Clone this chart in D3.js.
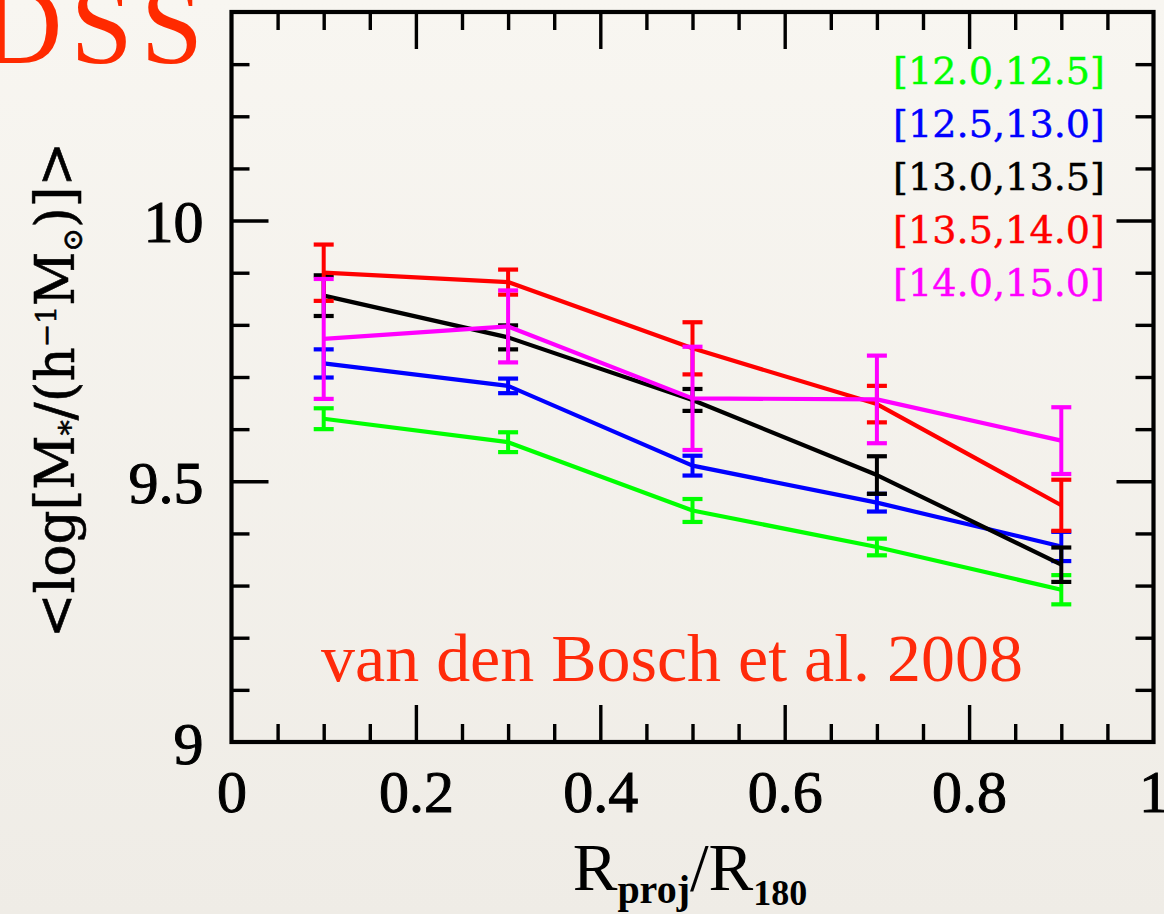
<!DOCTYPE html>
<html>
<head>
<meta charset="utf-8">
<script src="https://cdn.jsdelivr.net/npm/d3@7"></script>
<style>
  html, body { margin: 0; padding: 0; background: #f6f3ed; }
  svg { display: block; }
</style>
</head>
<body>
<svg id="chart" width="1164" height="914"></svg>
<script>
// Mean satellite stellar mass vs projected radius, by host halo-mass bin
const radius = [0.1, 0.3, 0.5, 0.7, 0.9];

const binLabels = ["[12.0,12.5]", "[12.5,13.0]", "[13.0,13.5]", "[13.5,14.0]", "[14.0,15.0]"];
const binColors = ["#00ff00", "#0000ff", "#000000", "#ff0000", "#ff00ff"];

const mean_12_0 = [9.620, 9.575, 9.444, 9.374, 9.292];
const err_12_0  = [0.020, 0.019, 0.022, 0.016, 0.028];
const mean_12_5 = [9.726, 9.683, 9.530, 9.459, 9.375];
const err_12_5  = [0.027, 0.014, 0.019, 0.017, 0.028];
const mean_13_0 = [9.856, 9.776, 9.656, 9.512, 9.340];
const err_13_0  = [0.039, 0.023, 0.021, 0.036, 0.033];
const mean_13_5 = [9.900, 9.882, 9.755, 9.648, 9.454];
const err_13_5  = [0.054, 0.024, 0.050, 0.035, 0.049];
const mean_14_0 = [9.773, 9.797, 9.659, 9.657, 9.578];
const err_14_0  = [0.115, 0.069, 0.099, 0.084, 0.064];

const xMajorTicks = [0.2, 0.4, 0.6, 0.8];
const xMinorTicks = [0.05, 0.1, 0.15, 0.25, 0.3, 0.35, 0.45, 0.5, 0.55, 0.65, 0.7, 0.75, 0.85, 0.9, 0.95];
const xTickLabels = [0, 0.2, 0.4, 0.6, 0.8, 1];
const yMajorTicks = [9.5, 10];
const yMinorTicks = [9.1, 9.2, 9.3, 9.4, 9.6, 9.7, 9.8, 9.9, 10.1, 10.2, 10.3];
const yTickLabels = [9, 9.5, 10];

const series = [
  { label: binLabels[0], color: binColors[0], mean: mean_12_0, err: err_12_0 },
  { label: binLabels[1], color: binColors[1], mean: mean_12_5, err: err_12_5 },
  { label: binLabels[2], color: binColors[2], mean: mean_13_0, err: err_13_0 },
  { label: binLabels[3], color: binColors[3], mean: mean_13_5, err: err_13_5 },
  { label: binLabels[4], color: binColors[4], mean: mean_14_0, err: err_14_0 }
];

const svg = d3.select("#chart");
const W = 1164, H = 914;

// paper-like background
const defs = svg.append("defs");
const grad = defs.append("linearGradient").attr("id", "paper")
  .attr("x1", 0).attr("y1", 0).attr("x2", 0).attr("y2", 1);
grad.append("stop").attr("offset", "0%").attr("stop-color", "#f8f6f1");
grad.append("stop").attr("offset", "100%").attr("stop-color", "#efece6");
svg.append("rect").attr("width", W).attr("height", H).attr("fill", "url(#paper)");

const x = d3.scaleLinear().domain([0, 1]).range([231.5, 1153.5]);
const y = d3.scaleLinear().domain([9, 10.4]).range([742, 12]);

const tickFont = "'Liberation Serif', 'DejaVu Serif', serif";

function fitWidth(sel, target) {
  const w = sel.node().getComputedTextLength();
  const fs = parseFloat(sel.attr("font-size"));
  sel.attr("font-size", fs * target / w);
}

// Survey name, partly running off the left edge
svg.append("text")
  .attr("x", 211).attr("y", 63)
  .attr("text-anchor", "end")
  .attr("font-family", "'Liberation Serif', serif")
  .attr("font-size", 112)
  .attr("letter-spacing", 8)
  .attr("fill", "#ff2a00")
  .text("SDSS");

// tick marks on all four sides, pointing inward
function tickAxis(gen, transform, values, size) {
  const g = svg.append("g").attr("transform", transform)
    .call(gen.tickValues(values).tickSize(size).tickFormat(""));
  g.select(".domain").remove();
  g.selectAll(".tick line").attr("stroke", "#000").attr("stroke-width", 3.4);
  return g;
}
const bottomT = `translate(0,${y(9)})`, topT = `translate(0,${y(10.4)})`;
const leftT = `translate(${x(0)},0)`, rightT = `translate(${x(1)},0)`;
tickAxis(d3.axisBottom(x), bottomT, xMajorTicks, -37);
tickAxis(d3.axisBottom(x), bottomT, xMinorTicks, -18);
tickAxis(d3.axisTop(x), topT, xMajorTicks, -37);
tickAxis(d3.axisTop(x), topT, xMinorTicks, -18);
tickAxis(d3.axisLeft(y), leftT, yMajorTicks, -37);
tickAxis(d3.axisLeft(y), leftT, yMinorTicks, -18);
tickAxis(d3.axisRight(y), rightT, yMajorTicks, -37);
tickAxis(d3.axisRight(y), rightT, yMinorTicks, -18);

// frame
svg.append("rect")
  .attr("x", x(0)).attr("y", y(10.4))
  .attr("width", x(1) - x(0)).attr("height", y(9) - y(10.4))
  .attr("fill", "none").attr("stroke", "#000").attr("stroke-width", 4.2);

// tick labels
const xLab = svg.append("g").attr("transform", bottomT)
  .call(d3.axisBottom(x).tickValues(xTickLabels).tickSize(0).tickPadding(27)
    .tickFormat(d => d === 0 ? "0" : d === 1 ? "1" : d3.format(".1f")(d)));
xLab.select(".domain").remove();
xLab.selectAll("text").attr("font-family", tickFont).attr("font-size", 60)
  .attr("fill", "#000").attr("stroke", "#000").attr("stroke-width", 1);

const yLab = svg.append("g").attr("transform", leftT)
  .call(d3.axisLeft(y).tickValues(yTickLabels).tickSize(0).tickPadding(28)
    .tickFormat(d => d === 9.5 ? "9.5" : String(d)));
yLab.select(".domain").remove();
yLab.selectAll("text").attr("font-family", tickFont).attr("font-size", 60)
  .attr("dy", "0.35em").attr("fill", "#000").attr("stroke", "#000").attr("stroke-width", 1);

// data: error bars and connecting lines
const line = d3.line().x(d => x(d[0])).y(d => y(d[1]));
const capHalf = 10;
series.forEach(s => {
  const g = svg.append("g");
  const pts = radius.map((r, i) => [r, s.mean[i], s.err[i]]);
  g.append("path").datum(pts).attr("d", line)
    .attr("fill", "none").attr("stroke", s.color).attr("stroke-width", 4.2)
    .attr("stroke-linejoin", "round");
  const eb = g.selectAll(".eb").data(pts).join("g");
  eb.append("line")
    .attr("x1", d => x(d[0])).attr("x2", d => x(d[0]))
    .attr("y1", d => y(d[1] - d[2])).attr("y2", d => y(d[1] + d[2]))
    .attr("stroke", s.color).attr("stroke-width", 4);
  [-1, 1].forEach(sign => {
    eb.append("line")
      .attr("x1", d => x(d[0]) - capHalf).attr("x2", d => x(d[0]) + capHalf)
      .attr("y1", d => y(d[1] + sign * d[2])).attr("y2", d => y(d[1] + sign * d[2]))
      .attr("stroke", s.color).attr("stroke-width", 4.2);
  });
});

// legend: halo-mass bins
const legend = svg.append("g").selectAll("text").data(series).join("text")
  .attr("x", 1105)
  .attr("y", (d, i) => 84 + i * 53)
  .attr("text-anchor", "end")
  .attr("font-family", "'DejaVu Serif', serif")
  .attr("font-size", 34)
  .attr("fill", d => d.color)
  .attr("stroke", d => d.color).attr("stroke-width", 0.4)
  .text(d => d.label);
legend.each(function () { fitWidth(d3.select(this), 212); });

// citation
const cite = svg.append("text")
  .attr("x", 672).attr("y", 681)
  .attr("text-anchor", "middle")
  .attr("font-family", "'Liberation Serif', serif")
  .attr("font-size", 56)
  .attr("fill", "#ff2a0a")
  .text("van den Bosch et al. 2008");
fitWidth(cite, 702);

// x-axis title: R_proj / R_180
const xt = svg.append("text")
  .attr("x", 690).attr("y", 890)
  .attr("text-anchor", "middle")
  .attr("font-family", "'Liberation Serif', serif")
  .attr("font-size", 62).attr("fill", "#000");
xt.append("tspan").text("R");
xt.append("tspan").attr("font-size", 40).attr("font-weight", "bold").attr("dy", 13).text("proj");
xt.append("tspan").attr("dy", -13).text("/R");
xt.append("tspan").attr("font-size", 36).attr("font-weight", "bold").attr("dy", 15).text("180");
fitWidth(xt, 245);

// y-axis title: <log[M*/(h^-1 M_sun)]>
const yt = svg.append("text")
  .attr("transform", "translate(74,390) rotate(-90)")
  .attr("text-anchor", "middle")
  .attr("font-family", "'DejaVu Serif', serif")
  .attr("font-size", 48).attr("fill", "#000")
  .attr("stroke", "#000").attr("stroke-width", 0.6);
yt.append("tspan").text("<log[M");
yt.append("tspan").attr("font-size", 30).attr("dy", 6).text("*");
yt.append("tspan").attr("dy", -6).text("/(h");
yt.append("tspan").attr("font-size", 28).attr("dy", -18).text("−1");
yt.append("tspan").attr("dy", 18).text("M");
yt.append("tspan").attr("font-size", 28).attr("dy", 8).text("⊙");
yt.append("tspan").attr("dy", -8).text(")]>");
fitWidth(yt, 505);
</script>
</body>
</html>
